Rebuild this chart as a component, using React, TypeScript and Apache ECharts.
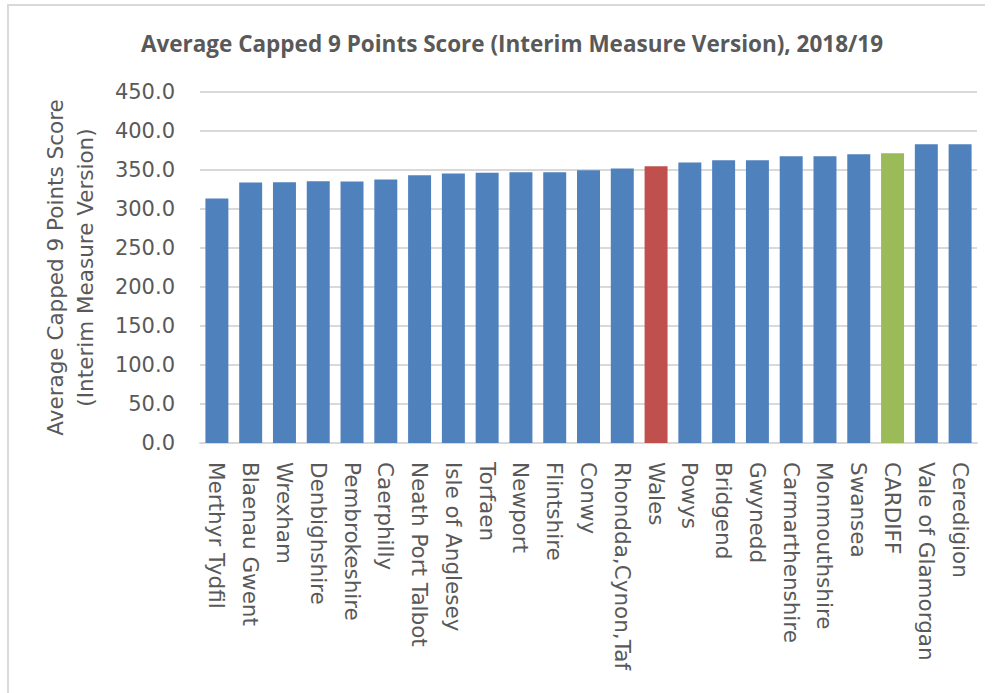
import React, { useEffect, useRef } from "react";
import * as echarts from "echarts";

const titleText = "Average Capped 9 Points Score (Interim Measure Version), 2018/19";
const yAxisTitle = "Average Capped 9 Points Score\n(Interim Measure Version)";

const categories = [
  "Merthyr Tydfil",
  "Blaenau Gwent",
  "Wrexham",
  "Denbighshire",
  "Pembrokeshire",
  "Caerphilly",
  "Neath Port Talbot",
  "Isle of Anglesey",
  "Torfaen",
  "Newport",
  "Flintshire",
  "Conwy",
  "Rhondda,Cynon,Taf",
  "Wales",
  "Powys",
  "Bridgend",
  "Gwynedd",
  "Carmarthenshire",
  "Monmouthshire",
  "Swansea",
  "CARDIFF",
  "Vale of Glamorgan",
  "Ceredigion",
];

const scores = [
  313.6, 334.0, 334.4, 335.7, 335.3, 337.9, 343.4, 345.6, 346.4, 347.2, 347.0,
  349.8, 352.0, 354.9, 359.6, 362.6, 362.6, 367.7, 367.7, 370.3, 371.6, 383.1,
  383.1,
];

const nationalName = "Wales";
const cityName = "CARDIFF";

const BLUE = "#4F81BD";
const RED = "#C0504D";
const GREEN = "#9BBB59";
const TEXT = "#595959";
const GRID = "#D9D9D9";

export default function App() {
  const ref = useRef<HTMLDivElement>(null);

  useEffect(() => {
    if (!ref.current) return;
    const chart = echarts.init(ref.current, null, { renderer: "svg" });
    const barData = scores.map((v, i) => {
      const name = categories[i];
      const color = name === nationalName ? RED : name === cityName ? GREEN : BLUE;
      return { value: v, itemStyle: { color } };
    });
    chart.setOption({
      animation: false,
      backgroundColor: "#FFFFFF",
      title: {
        text: titleText,
        left: 507,
        top: 27,
        textAlign: "center",
        textStyle: {
          fontFamily: "Open Sans",
          fontWeight: "bold",
          fontSize: 22.5,
          color: TEXT,
        },
      },
      graphic: [
        {
          type: "polyline",
          shape: { points: [[8, 693], [8, 5], [985, 5]] },
          style: { stroke: GRID, lineWidth: 2, fill: "none" },
          silent: true,
        },
      ],
      grid: { left: 200, right: 17, top: 92, bottom: 250, containLabel: false },
      xAxis: {
        type: "category",
        data: categories,
        axisLine: { lineStyle: { color: GRID, width: 2 } },
        axisTick: { show: false },
        axisLabel: {
          rotate: -90,
          interval: 0,
          margin: 19,
          fontFamily: "DejaVu Sans",
          fontSize: 21.5,
          color: TEXT,
        },
      },
      yAxis: {
        type: "value",
        min: 0,
        max: 450,
        interval: 50,
        name: yAxisTitle,
        nameLocation: "middle",
        nameGap: 100,
        nameTextStyle: {
          fontFamily: "DejaVu Sans",
          fontSize: 21.5,
          color: TEXT,
          lineHeight: 30,
        },
        axisLine: { show: false },
        axisTick: { show: false },
        splitLine: { lineStyle: { color: GRID, width: 2 } },
        axisLabel: {
          margin: 25,
          fontFamily: "DejaVu Sans",
          fontSize: 21,
          color: TEXT,
          formatter: (v: number) => v.toFixed(1),
        },
      },
      series: [
        {
          type: "bar",
          data: barData,
          barCategoryGap: "32%",
        },
      ],
    });
    return () => chart.dispose();
  }, []);

  return (
    <div
      ref={ref}
      style={{ position: "fixed", left: 0, top: 0, width: 994, height: 693 }}
    />
  );
}
